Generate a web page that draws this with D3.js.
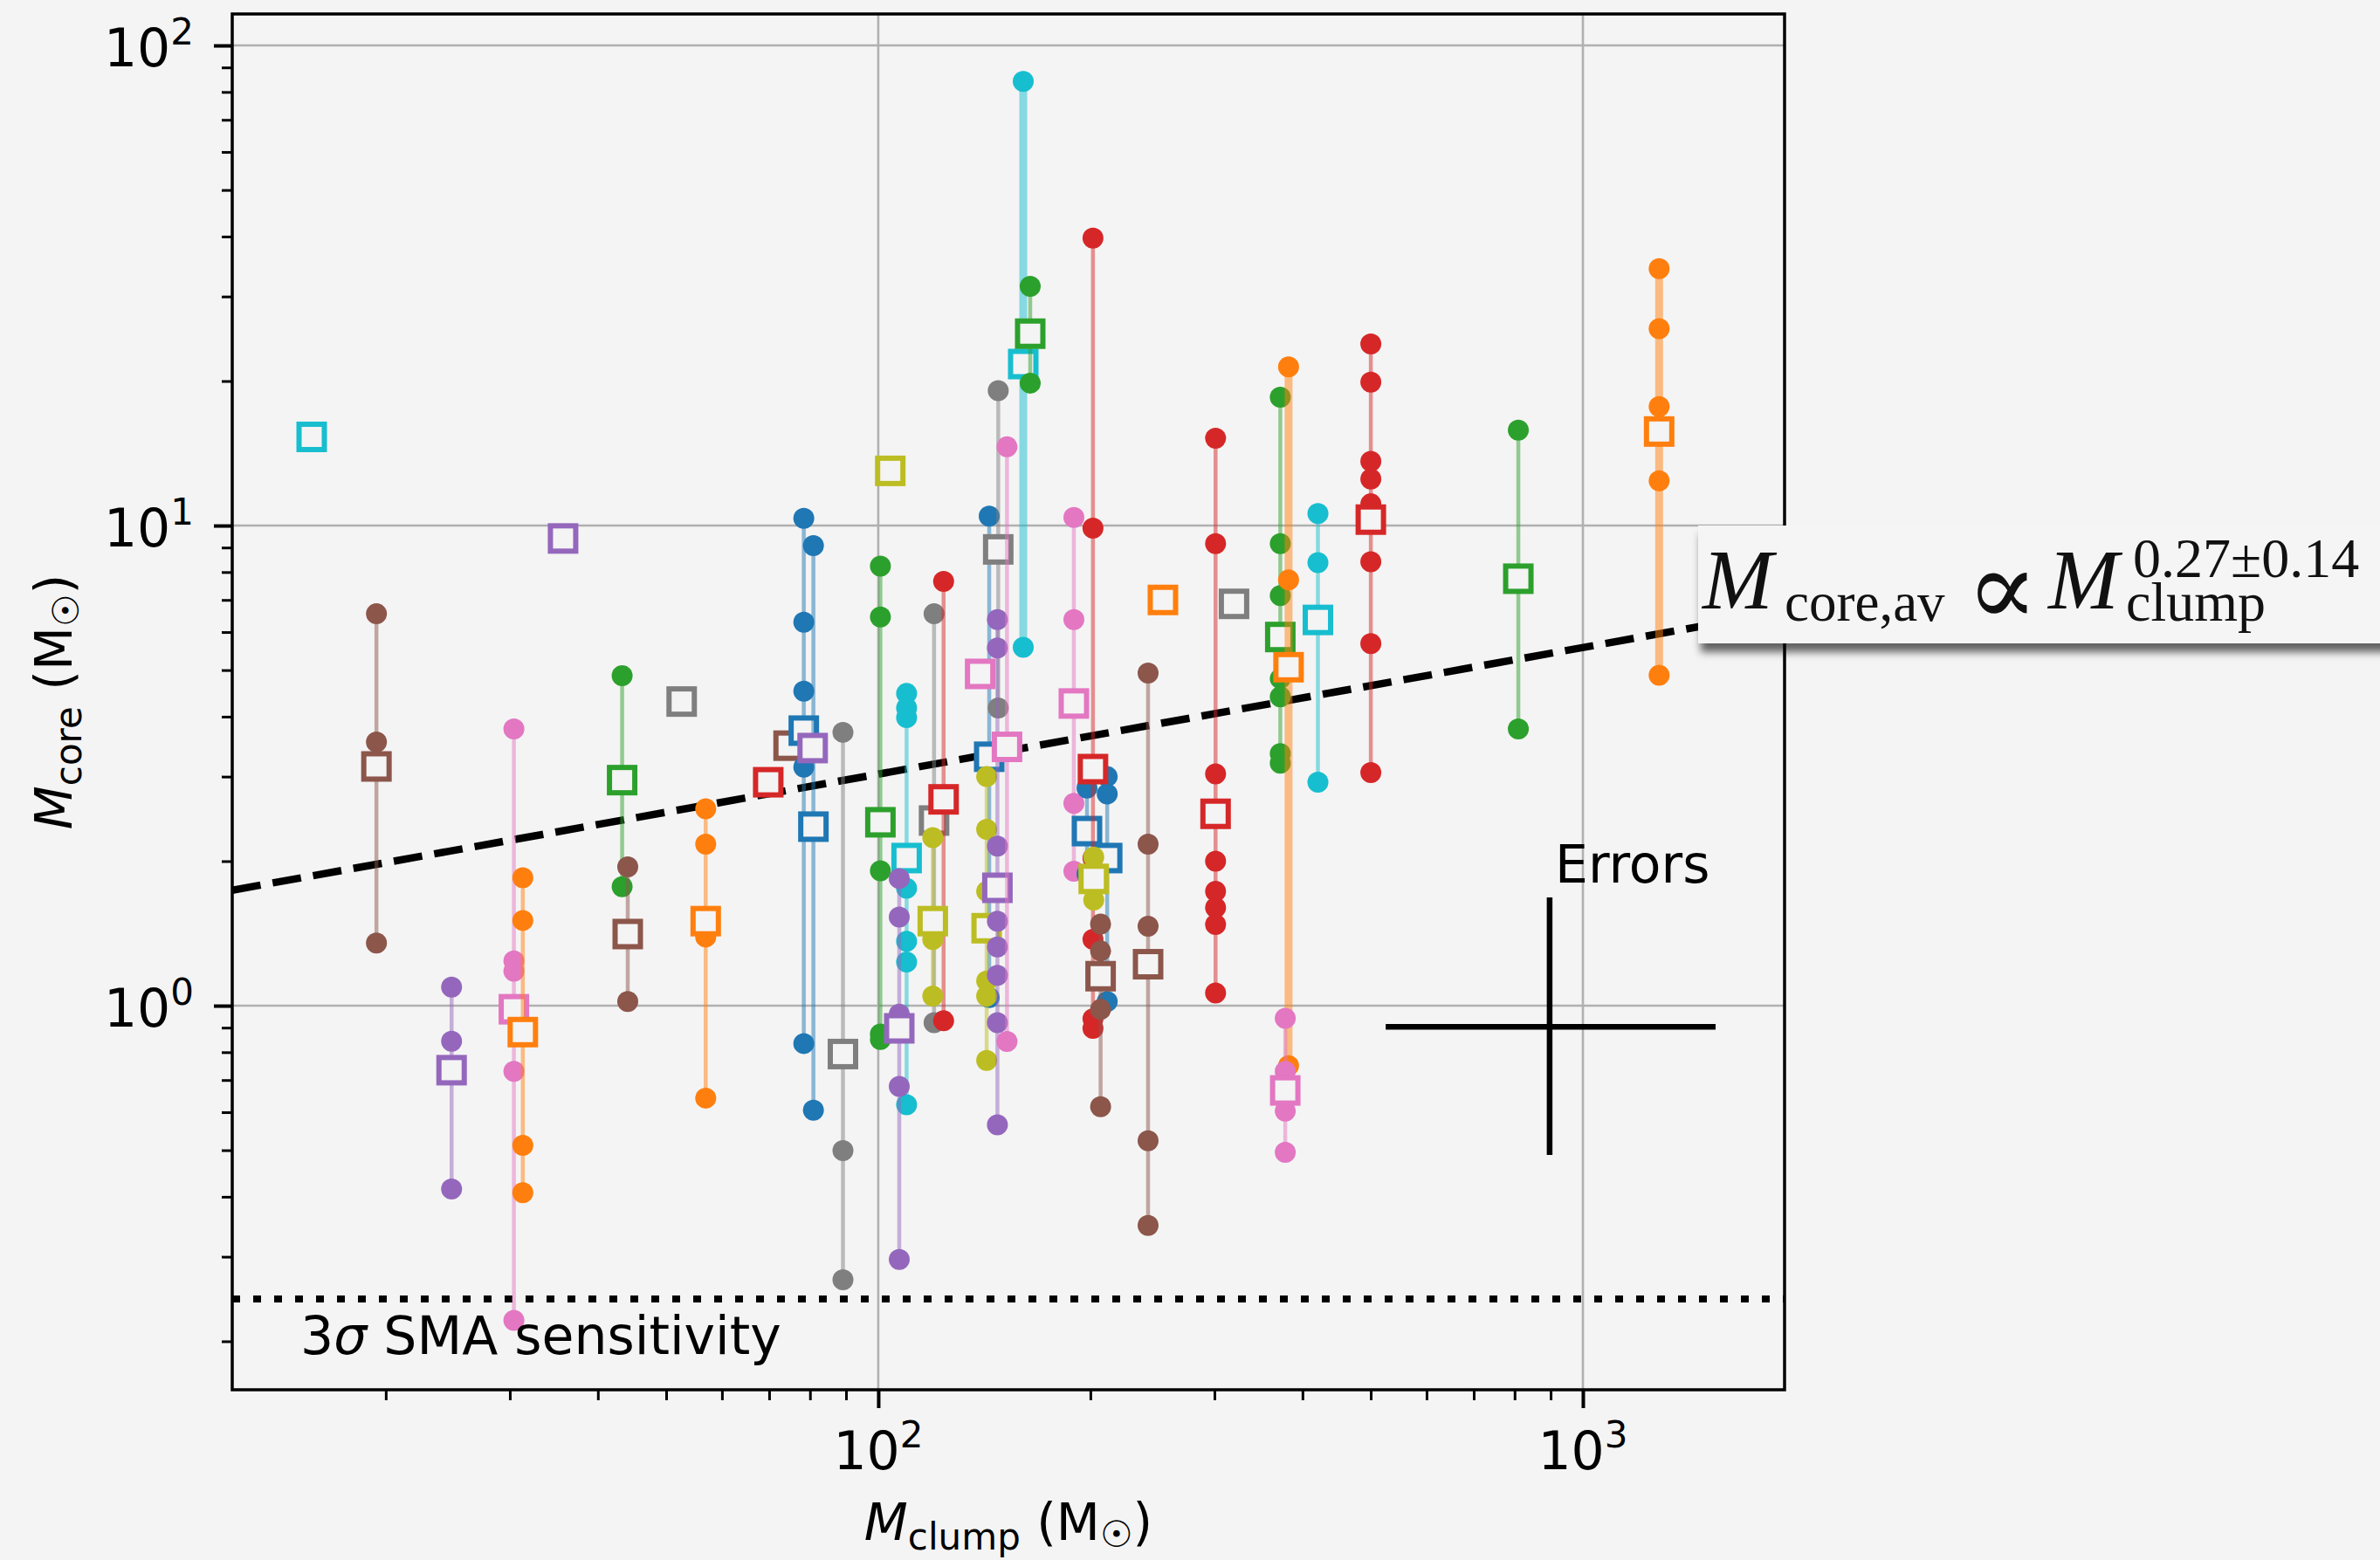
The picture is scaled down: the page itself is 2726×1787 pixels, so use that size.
<!DOCTYPE html>
<html><head><meta charset="utf-8">
<script src="https://cdn.jsdelivr.net/npm/d3@7"></script>
<style>html,body{margin:0;padding:0;background:#f4f4f4;} text.sans{font-family:"DejaVu Sans",sans-serif;}</style>
</head><body>
<svg id="chart" width="2726" height="1787"></svg>
<script>
// ---------------- DATA ----------------
// clump mass (Msun) for each clump
const clumpMass = [15.7, 19.4, 24.8, 35.7, 30.4, 31.3, 43.3, 44.1, 52.6, 56.9,
  69.8, 74.6, 78.4, 80.9, 80.7, 89.1, 100.7, 104, 109.7, 107.1,
  120, 123.8, 119.5, 143.7, 142.5, 148, 147.6, 139.5, 152.3, 160.6,
  164.3, 253.5, 189.5, 197.8, 211.3, 201.7, 202.2, 206.8, 241.5, 301.1,
  319.8, 372, 382.2, 378.1, 420.7, 500.1, 809.8, 1283];
// core masses (Msun) of each clump
const coreMasses = [
  [15.3], [6.55, 3.54, 1.35], [1.093, 0.843, 0.415], [9.4], [3.77, 1.24, 1.18, 0.73, 0.221],
  [1.847, 1.505, 0.512, 0.408], [4.87, 1.77], [1.946, 1.02], [4.30], [2.57, 2.17, 1.39, 0.642],
  [2.92], [3.48], [10.35, 6.29, 4.52, 3.14, 0.834], [9.08, 0.606], [3.44],
  [3.71, 0.499, 0.2687], [8.23, 6.45, 1.91, 0.873, 0.85], [13.0], [4.47, 4.17, 3.98, 1.756, 1.362, 1.233, 0.622], [1.84, 1.53, 0.96, 0.679, 0.296],
  [6.55, 0.922], [7.65, 0.93], [2.24, 1.374, 1.047], [10.46, 1.04], [3.0, 2.33, 1.73, 1.126, 1.047, 0.769],
  [19.1, 4.17], [6.37, 5.56, 2.15, 1.50, 1.325, 1.157, 0.922, 0.565], [4.91], [14.6, 0.842], [84.2, 5.58],
  [31.5, 19.8], [7.0], [10.4, 6.37, 2.64, 1.905], [2.84, 1.88], [3.0, 2.76, 1.02],
  [39.7, 9.88, 2.03, 1.375, 0.939, 0.897], [2.04, 1.66], [1.48, 1.30, 0.982, 0.616], [4.93, 2.17, 1.464, 0.523, 0.3486], [15.2, 9.17, 3.04, 2.0, 1.73, 1.60, 1.476, 1.063],
  [6.87], [18.5, 9.17, 7.15, 4.8, 4.4, 3.35, 3.2], [21.4, 7.71, 0.75], [0.941, 0.73, 0.603, 0.495], [10.59, 8.37, 2.92],
  [23.9, 19.9, 13.6, 12.5, 11.1, 8.41, 5.68, 3.06], [15.8, 3.77], [34.3, 25.7, 17.7, 12.4, 4.88]
];
// average core mass per clump (open squares)
const avgCoreMass = [15.3, 3.15, 0.734, 9.4, 0.983, 0.881, 2.95, 1.41, 4.30, 1.50,
  2.92, 3.48, 3.74, 2.36, 3.44, 0.793, 2.41, 13.0, 2.03, 0.897,
  2.43, 2.69, 1.50, 3.30, 1.45, 8.92, 1.76, 4.91, 3.46, 21.7,
  25.1, 7.0, 4.26, 2.31, 2.03, 3.11, 1.837, 1.152, 1.22, 2.51,
  6.87, 5.86, 5.07, 0.666, 6.36, 10.29, 7.75, 15.7];
// colour-cycle entry of each clump
const clumpColour = ["cyan", "brown", "purple", "purple", "pink", "orange", "green", "brown", "gray", "orange",
  "red", "brown", "blue", "blue", "purple", "gray", "green", "olive", "cyan", "purple",
  "gray", "red", "olive", "blue", "olive", "gray", "purple", "pink", "pink", "cyan",
  "green", "orange", "pink", "blue", "blue", "red", "olive", "brown", "brown", "red",
  "gray", "green", "orange", "pink", "cyan", "red", "green", "orange"];
const heavyLineClumps = [29, 42, 47];   // clumps drawn with a doubled line

const sensitivityLimit = 0.245;               // 3 sigma SMA sensitivity (Msun)
const fitLineX = [12.11, 1933];               // fit line end points
const fitLineY = [1.74, 6.63];
const errorCentre = [897, 0.904];
const errorXRange = [525, 1543];
const errorYRange = [0.489, 1.68];

const xDomain = [12.11, 1933];
const yDomain = [0.1585, 116.3];
const xMajorTicks = [100, 1000];
const xMajorExp = ["2", "3"];
const yMajorTicks = [1, 10, 100];
const yMajorExp = ["0", "1", "2"];

// ---------------- DRAWING ----------------
const tab10 = {blue:"#1f77b4", orange:"#ff7f0e", green:"#2ca02c", red:"#d62728", purple:"#9467bd",
  brown:"#8c564b", pink:"#e377c2", gray:"#7f7f7f", olive:"#bcbd22", cyan:"#17becf"};
const BG = "#f4f4f4";
const L = 266, R = 2044, T = 16, B = 1592;
const svg = d3.select("#chart");
svg.append("rect").attr("width", 2726).attr("height", 1787).attr("fill", BG);

const x = d3.scaleLog().domain(xDomain).range([L, R]);
const y = d3.scaleLog().domain(yDomain).range([B, T]);

const defs = svg.append("defs");
defs.append("clipPath").attr("id", "clip").append("rect")
  .attr("x", L).attr("y", T).attr("width", R - L).attr("height", B - T);
const f = defs.append("filter").attr("id", "shadow").attr("x", "-10%").attr("y", "-30%").attr("width", "130%").attr("height", "180%");
f.append("feDropShadow").attr("dx", 3).attr("dy", 10).attr("stdDeviation", 5)
  .attr("flood-color", "#000").attr("flood-opacity", 0.6);

// grid
const grid = svg.append("g");
grid.selectAll(".gx").data(xMajorTicks).join("line")
  .attr("x1", d => x(d)).attr("x2", d => x(d)).attr("y1", T).attr("y2", B)
  .attr("stroke", "#b0b0b0").attr("stroke-width", 2.6);
grid.selectAll(".gy").data(yMajorTicks).join("line")
  .attr("x1", L).attr("x2", R).attr("y1", d => y(d)).attr("y2", d => y(d))
  .attr("stroke", "#b0b0b0").attr("stroke-width", 2.6);

// minor tick values
function minors(dom) {
  const out = [];
  for (let e = -2; e <= 4; e++) for (let k = 2; k <= 9; k++) {
    const v = k * Math.pow(10, e);
    if (v > dom[0] && v < dom[1]) out.push(v);
  }
  return out;
}

// axes
function styleAxis(g, w) {
  g.select(".domain").remove();
  g.selectAll(".tick line").attr("stroke", "#000").attr("stroke-width", w);
  g.selectAll(".tick text").remove();
}
svg.append("g").attr("transform", `translate(0,${B})`)
  .call(d3.axisBottom(x).tickValues(xMajorTicks).tickSize(21).tickFormat(""))
  .call(g => styleAxis(g, 4));
svg.append("g").attr("transform", `translate(0,${B})`)
  .call(d3.axisBottom(x).tickValues(minors(xDomain)).tickSize(12).tickFormat(""))
  .call(g => styleAxis(g, 3));
svg.append("g").attr("transform", `translate(${L},0)`)
  .call(d3.axisLeft(y).tickValues(yMajorTicks).tickSize(21).tickFormat(""))
  .call(g => styleAxis(g, 4));
svg.append("g").attr("transform", `translate(${L},0)`)
  .call(d3.axisLeft(y).tickValues(minors(yDomain)).tickSize(12).tickFormat(""))
  .call(g => styleAxis(g, 3));

// tick labels
xMajorTicks.forEach((v, i) => {
  const t = svg.append("text").attr("class", "sans").attr("x", x(v)).attr("y", 1683).attr("text-anchor", "middle")
    .attr("font-size", 60).attr("fill", "#000");
  t.append("tspan").text("10");
  t.append("tspan").attr("dy", -25).attr("font-size", 42).text(xMajorExp[i]);
});
yMajorTicks.forEach((v, i) => {
  const t = svg.append("text").attr("class", "sans").attr("x", 222).attr("y", y(v) + 24).attr("text-anchor", "end")
    .attr("font-size", 60).attr("fill", "#000");
  t.append("tspan").text("10");
  t.append("tspan").attr("dy", -25).attr("font-size", 42).text(yMajorExp[i]);
});

// plot content
const plot = svg.append("g").attr("clip-path", "url(#clip)");

// sensitivity line
plot.append("line").attr("x1", L).attr("x2", R)
  .attr("y1", y(sensitivityLimit)).attr("y2", y(sensitivityLimit))
  .attr("stroke", "#000").attr("stroke-width", 8).attr("stroke-dasharray", "9,15");

// fit line
plot.append("path")
  .attr("d", d3.line().x(d => x(d[0])).y(d => y(d[1]))(fitLineX.map((v, i) => [v, fitLineY[i]])))
  .attr("stroke", "#000").attr("stroke-width", 8.5).attr("stroke-dasharray", "33,14").attr("fill", "none");

// clumps
clumpMass.forEach((m, i) => {
  const col = tab10[clumpColour[i]];
  const cores = coreMasses[i];
  const g = plot.append("g");
  if (cores.length > 1) {
    g.append("line").attr("x1", x(m)).attr("x2", x(m))
      .attr("y1", y(d3.max(cores))).attr("y2", y(d3.min(cores)))
      .attr("stroke", col).attr("stroke-opacity", 0.5)
      .attr("stroke-width", heavyLineClumps.includes(i) ? 9 : 4.5);
  }
  g.selectAll("circle").data(cores).join("circle")
    .attr("cx", x(m)).attr("cy", d => y(d)).attr("r", 12).attr("fill", col);
  g.append("rect").attr("x", x(m) - 14.5).attr("y", y(avgCoreMass[i]) - 14.5)
    .attr("width", 29).attr("height", 29)
    .attr("fill", BG).attr("stroke", col).attr("stroke-width", 6);
});

// error cross
plot.append("line").attr("x1", x(errorXRange[0])).attr("x2", x(errorXRange[1]))
  .attr("y1", y(errorCentre[1])).attr("y2", y(errorCentre[1]))
  .attr("stroke", "#000").attr("stroke-width", 6.5);
plot.append("line").attr("x1", x(errorCentre[0])).attr("x2", x(errorCentre[0]))
  .attr("y1", y(errorYRange[0])).attr("y2", y(errorYRange[1]))
  .attr("stroke", "#000").attr("stroke-width", 6.5);
svg.append("text").attr("class", "sans").attr("x", 1781).attr("y", 1011).attr("font-size", 60).attr("fill", "#000").text("Errors");

// sensitivity label
const st = svg.append("text").attr("class", "sans").attr("x", 344).attr("y", 1551).attr("font-size", 60).attr("fill", "#000");
st.append("tspan").text("3");
st.append("tspan").attr("font-style", "italic").text("σ");
st.append("tspan").text(" SMA sensitivity");

// spines
svg.append("rect").attr("x", L).attr("y", T).attr("width", R - L).attr("height", B - T)
  .attr("fill", "none").attr("stroke", "#000").attr("stroke-width", 3.5);

// axis labels
function massLabel(t, sub) {
  t.append("tspan").attr("font-style", "italic").text("M");
  t.append("tspan").attr("font-size", 42).attr("dy", 11).text(sub);
  t.append("tspan").attr("dy", -11).text(" (M");
  t.append("tspan").attr("font-size", 42).attr("dy", 8).text("☉");
  t.append("tspan").attr("dy", -8).text(")");
}
massLabel(svg.append("text").attr("class", "sans").attr("x", (L + R) / 2).attr("y", 1764).attr("text-anchor", "middle")
  .attr("font-size", 58).attr("fill", "#000"), "clump");
massLabel(svg.append("text").attr("class", "sans").attr("transform", `translate(82,${(T + B) / 2}) rotate(-90)`)
  .attr("text-anchor", "middle").attr("font-size", 58).attr("fill", "#000"), "core");

// fit annotation box
svg.append("rect").attr("x", 1945).attr("y", 602).attr("width", 830).attr("height", 135)
  .attr("fill", "#f5f5f5").attr("filter", "url(#shadow)");
const serif = "'Liberation Serif','DejaVu Serif',serif";
function serifText(xp, yp, size, italic, str, fam) {
  return svg.append("text").attr("x", xp).attr("y", yp)
    .style("font-family", fam || serif).style("font-style", italic ? "italic" : "normal")
    .style("font-size", size + "px").attr("fill", "#111").text(str);
}
serifText(1950, 697, 97, true, "M");
serifText(2044, 711, 63, false, "core,av");
serifText(2252, 716, 122, false, "∝");
serifText(2346, 697, 97, true, "M");
serifText(2443, 661, 64, false, "0.27±0.14");
serifText(2435, 711, 64, false, "clump");
</script>
</body></html>
